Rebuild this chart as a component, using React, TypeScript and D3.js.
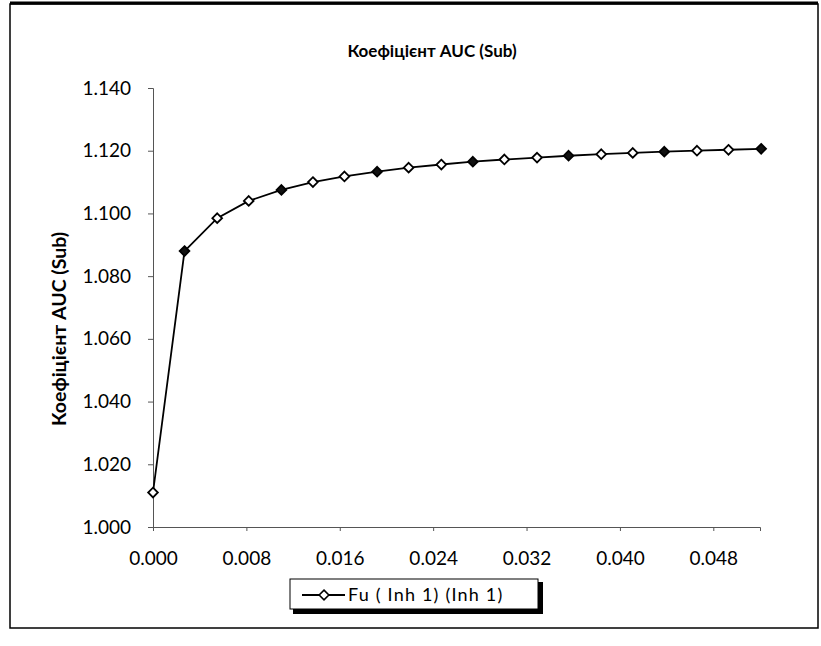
import * as d3 from "d3"
import { useRef, useEffect } from "react"

// x: step of one day in years (1/365), 20 points
const xValues = [
  0, 0.0027, 0.0055, 0.0082, 0.011, 0.0137, 0.0164, 0.0192, 0.0219, 0.0247,
  0.0274, 0.0301, 0.0329, 0.0356, 0.0384, 0.0411, 0.0438, 0.0466, 0.0493, 0.0521,
]
const yValues = [
  1.011, 1.088, 1.0985, 1.104, 1.1075, 1.11, 1.1118, 1.1133, 1.1146, 1.1156,
  1.1165, 1.1172, 1.1178, 1.1184, 1.1189, 1.1193, 1.1197, 1.12, 1.1203, 1.1206,
]
const xTicks = [0, 0.008, 0.016, 0.024, 0.032, 0.04, 0.048]
const yTicks = [1.0, 1.02, 1.04, 1.06, 1.08, 1.1, 1.12, 1.14]

const chartTitle = "Коефіцієнт AUC (Sub)"
const yTitle = "Коефіцієнт AUC (Sub)"
const seriesName = "Fu ( Inh 1) (Inh 1)"

const width = 821
const height = 646
const marginLeft = 153
const marginRight = 61
const marginTop = 88
const marginBottom = 119
const font = "Lato, 'Open Sans', sans-serif"

export default function App() {
  const gx = useRef<SVGGElement>(null)
  const gy = useRef<SVGGElement>(null)

  const x = d3.scaleLinear([0, 0.052], [marginLeft, width - marginRight])
  const y = d3.scaleLinear([1.0, 1.14], [height - marginBottom, marginTop])

  const data = xValues.map((v, i) => ({ x: v, y: yValues[i] }))
  const line = d3
    .line<{ x: number; y: number }>()
    .x((d) => x(d.x))
    .y((d) => y(d.y))
  const diamond = d3.symbol(d3.symbolDiamond2, 60)()

  useEffect(() => {
    if (gx.current) {
      const g = d3.select(gx.current)
      g.call(
        d3
          .axisBottom(x)
          .tickValues(xTicks)
          .tickSize(4)
          .tickPadding(21)
          .tickFormat(d3.format(".3f"))
      )
      g.select(".domain").attr("stroke", "#555")
      g.selectAll(".tick line").attr("stroke", "#555")
      g.selectAll("text")
        .attr("font-family", font)
        .attr("font-size", 19)
        .attr("fill", "#000")
    }
    if (gy.current) {
      const g = d3.select(gy.current)
      g.call(
        d3
          .axisLeft(y)
          .tickValues(yTicks)
          .tickSize(5)
          .tickPadding(17)
          .tickFormat(d3.format(".3f"))
      )
      g.select(".domain").attr("stroke", "#555")
      g.selectAll(".tick line").attr("stroke", "#555")
      g.selectAll("text")
        .attr("font-family", font)
        .attr("font-size", 19)
        .attr("fill", "#000")
    }
  }, [x, y])

  return (
    <svg
      width={width}
      height={height}
      style={{ position: "absolute", left: 0, top: 0, background: "#fff" }}
    >
      <rect x={10} y={4} width={808} height={624} fill="#fff" stroke="#000" strokeWidth={1.5} />
      <line x1={10} x2={818} y1={3} y2={3} stroke="#000" strokeWidth={3} />

      <text
        x={432}
        y={57}
        textAnchor="middle"
        fontFamily={font}
        fontWeight="bold"
        fontSize={17}
      >
        {chartTitle}
      </text>

      <text
        transform={`translate(66,329) rotate(-90)`}
        textAnchor="middle"
        fontFamily={font}
        fontWeight="bold"
        fontSize={19.5}
      >
        {yTitle}
      </text>

      <g ref={gx} transform={`translate(0,${height - marginBottom})`} />
      <g ref={gy} transform={`translate(${marginLeft},0)`} />

      <path d={line(data) ?? undefined} fill="none" stroke="#000" strokeWidth={1.8} />
      <g>
        {data.map((d, i) => (
          <path
            key={i}
            d={diamond ?? undefined}
            transform={`translate(${x(d.x)},${y(d.y)})`}
            fill={i % 3 === 1 ? "#111" : "#fff"}
            stroke="#000"
            strokeWidth={1.8}
          />
        ))}
      </g>

      <g transform="translate(290,579)">
        <rect x={3} y={3} width={250} height={32} fill="#000" />
        <rect x={0} y={0} width={248} height={30} fill="#fff" stroke="#000" strokeWidth={1} />
        <line x1={12} x2={55} y1={16} y2={16} stroke="#000" strokeWidth={1.8} />
        <path
          d={diamond ?? undefined}
          transform="translate(34,16)"
          fill="#fff"
          stroke="#000"
          strokeWidth={1.6}
        />
        <text x={58} y={22} fontFamily={font} fontSize={18} letterSpacing={1.2}>
          {seriesName}
        </text>
      </g>
    </svg>
  )
}
